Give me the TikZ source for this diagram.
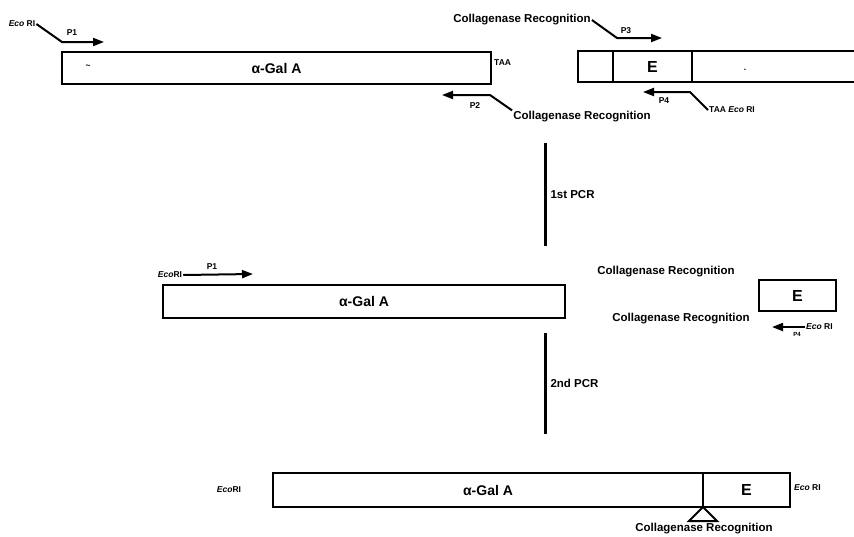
\documentclass[tikz,border=0pt]{standalone}
\usepackage{fontspec}
\setmainfont{Liberation Sans}
\usetikzlibrary{arrows.meta, positioning}
\tikzset{
  gene/.style   = {draw, line width=2pt, inner sep=0pt, outer sep=0pt,
                   font=\fontsize{14}{14}\selectfont\bfseries},
  exon/.style   = {gene, font=\fontsize{16}{16}\selectfont\bfseries},
  site/.style   = {font=\fontsize{11.5}{12}\selectfont\bfseries, inner sep=1pt},
  tag/.style    = {font=\fontsize{8.5}{9}\selectfont\bfseries, inner sep=1pt},
  primer/.style = {line width=2pt, -{Triangle[length=11pt, width=8pt]}},
  pcr/.style    = {line width=3pt},
  edge/.style   = {line width=2pt}
}

\begin{document}
\begin{tikzpicture}[x=1pt, y=-1pt]
  \useasboundingbox (0,0) rectangle (854,536);

  % top row: cDNA and genomic E fragment with the four primers
  \node[gene, minimum width=429pt, minimum height=32pt] (gal1) at (276.5,68) {α-Gal A};
  \node[tag] (tld) at (88,67) {\textasciitilde};
  \node[tag, anchor=west] (taa1) at (493,63) {TAA};

  \node[gene, minimum width=35pt, minimum height=31pt] (g2a) at (595.5,66.5) {};
  \node[exon, minimum width=79pt, minimum height=31pt, right=0pt of g2a] (g2e) {E};
  \coordinate (g2ne) at (854,51);
  \coordinate (g2se) at (854,82);
  \draw[edge] (g2e.north east) -- (g2ne);
  \draw[edge] (g2e.south east) -- (g2se);
  \node[tag] (dot) at (745,70) {.};

  \node[tag] (eco1) at (22,24) {\textit{Eco} RI};
  \coordinate (p1a) at (62,42);
  \coordinate (p1b) at (104,42);
  \draw[primer] (eco1.east) -- (p1a) -- (p1b);
  \node[tag] at (72,33) {P1};

  \node[site] (col1) at (522,20) {Collagenase Recognition};
  \coordinate (p3a) at (617,38);
  \coordinate (p3b) at (662,38);
  \draw[primer] (col1.east) -- (p3a) -- (p3b);
  \node[tag] at (626,31) {P3};

  \node[site] (col2) at (582,117) {Collagenase Recognition};
  \coordinate (p2a) at (490,95);
  \coordinate (p2b) at (442,95);
  \draw[primer] (col2.north west) -- (p2a) -- (p2b);
  \node[tag] at (475,106) {P2};

  \node[tag, anchor=west] (taa2) at (708,110) {TAA \textit{Eco} RI};
  \coordinate (p4a) at (690,92);
  \coordinate (p4b) at (643,92);
  \draw[primer] (taa2.west) -- (p4a) -- (p4b);
  \node[tag] at (664,101) {P4};

  % first PCR
  \coordinate (pcr1a) at (545,143);
  \coordinate (pcr1b) at (545,246);
  \draw[pcr] (pcr1a) -- node[site, right=3pt] {1st PCR} (pcr1b);

  % middle row: the two PCR products
  \node[gene, minimum width=402pt, minimum height=33pt] (gal2) at (364,301) {α-Gal A};
  \node[tag] (eco2) at (170,275) {\textit{Eco}RI};
  \coordinate (p1c) at (253,274);
  \draw[primer] (eco2.east) -- (p1c);
  \node[tag] at (212,267) {P1};

  \node[site] (col3) at (666,272) {Collagenase Recognition};
  \node[site] (col4) at (681,319) {Collagenase Recognition};
  \node[exon, minimum width=77pt, minimum height=31pt] (e2) at (797.5,295.5) {E};
  \node[tag, anchor=west] (eco3) at (805,327) {\textit{Eco} RI};
  \coordinate (p4c) at (772,327);
  \draw[primer] (eco3.west) -- (p4c);
  \node[tag, font=\fontsize{6}{6}\selectfont\bfseries] at (797,334) {P4};

  % second PCR
  \coordinate (pcr2a) at (545,333);
  \coordinate (pcr2b) at (545,434);
  \draw[pcr] (pcr2a) -- node[site, right=3pt] {2nd PCR} (pcr2b);

  % bottom row: fused product
  \node[gene, minimum width=430pt, minimum height=34pt] (gal3) at (488,490) {α-Gal A};
  \node[exon, minimum width=87pt, minimum height=34pt, right=0pt of gal3] (e3) {E};
  \node[tag] (eco4) at (229,490) {\textit{Eco}RI};
  \node[tag, anchor=west] (eco5) at (793,488) {\textit{Eco} RI};
  \draw[edge] (e3.south west) -- ++(-14,14) -- ++(28,0) -- cycle;
  \node[site] (col5) at (704,529) {Collagenase Recognition};
\end{tikzpicture}
\end{document}
